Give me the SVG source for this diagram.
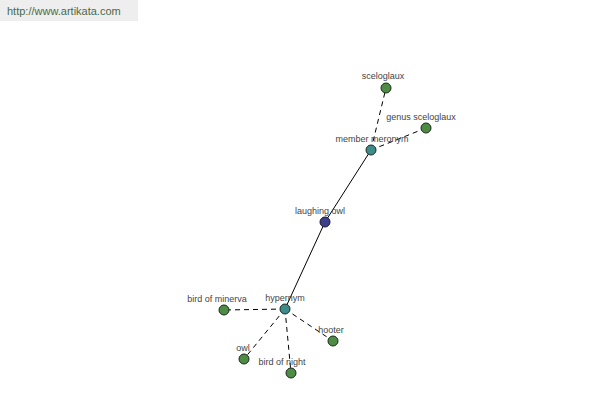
<svg xmlns="http://www.w3.org/2000/svg" width="600" height="400" viewBox="0 0 600 400">
<style>
.lbl{font-family:"Liberation Sans",Arial,sans-serif;font-size:9px;fill:#444;text-anchor:middle}
.dash{stroke:#000;stroke-width:1;stroke-dasharray:5,4;fill:none}
.solid{stroke:#000;stroke-width:1;fill:none}
.g{fill:#4e8b45;stroke:#1a2a1a;stroke-width:1}
.t{fill:#3d8c8a;stroke:#1a2a2a;stroke-width:1}
.b{fill:#3c3f8c;stroke:#1a1a2a;stroke-width:1}
</style>
<rect width="600" height="400" fill="#fff"/>
<rect x="0" y="0" width="138" height="21" fill="#eeeeee"/>
<text x="7" y="15" font-family="'Liberation Sans',Arial,sans-serif" font-size="11" fill="#4a6a4a">http://www.artikata.com</text>
<g id="connectors">
<line class="solid" x1="371" y1="150" x2="325" y2="222"/>
<line class="solid" x1="325" y1="222" x2="285" y2="309"/>
<line class="dash" x1="371" y1="150" x2="386" y2="88"/>
<line class="dash" x1="371" y1="150" x2="426" y2="128"/>
<line class="dash" x1="285" y1="309" x2="224" y2="310"/>
<line class="dash" x1="285" y1="309" x2="333" y2="341"/>
<line class="dash" x1="285" y1="309" x2="244" y2="359"/>
<line class="dash" x1="285" y1="309" x2="291" y2="373"/>
</g>
<g id="sceloglaux"><circle class="g" cx="386" cy="88" r="5"/><text class="lbl" x="383" y="79">sceloglaux</text></g>
<g id="genus-sceloglaux"><circle class="g" cx="426" cy="128" r="5"/><text class="lbl" x="421" y="120">genus sceloglaux</text></g>
<g id="member-meronym"><circle class="t" cx="371" cy="150" r="5"/><text class="lbl" x="372" y="142">member meronym</text></g>
<g id="laughing-owl"><circle class="b" cx="325" cy="222" r="5"/><text class="lbl" x="320" y="214">laughing owl</text></g>
<g id="hypernym"><circle class="t" cx="285" cy="309" r="5"/><text class="lbl" x="285" y="301">hypernym</text></g>
<g id="bird-of-minerva"><circle class="g" cx="224" cy="310" r="5"/><text class="lbl" x="217" y="302">bird of minerva</text></g>
<g id="hooter"><circle class="g" cx="333" cy="341" r="5"/><text class="lbl" x="331" y="333">hooter</text></g>
<g id="owl"><circle class="g" cx="244" cy="359" r="5"/><text class="lbl" x="243" y="351">owl</text></g>
<g id="bird-of-night"><circle class="g" cx="291" cy="373" r="5"/><text class="lbl" x="282" y="365">bird of night</text></g>
</svg>
